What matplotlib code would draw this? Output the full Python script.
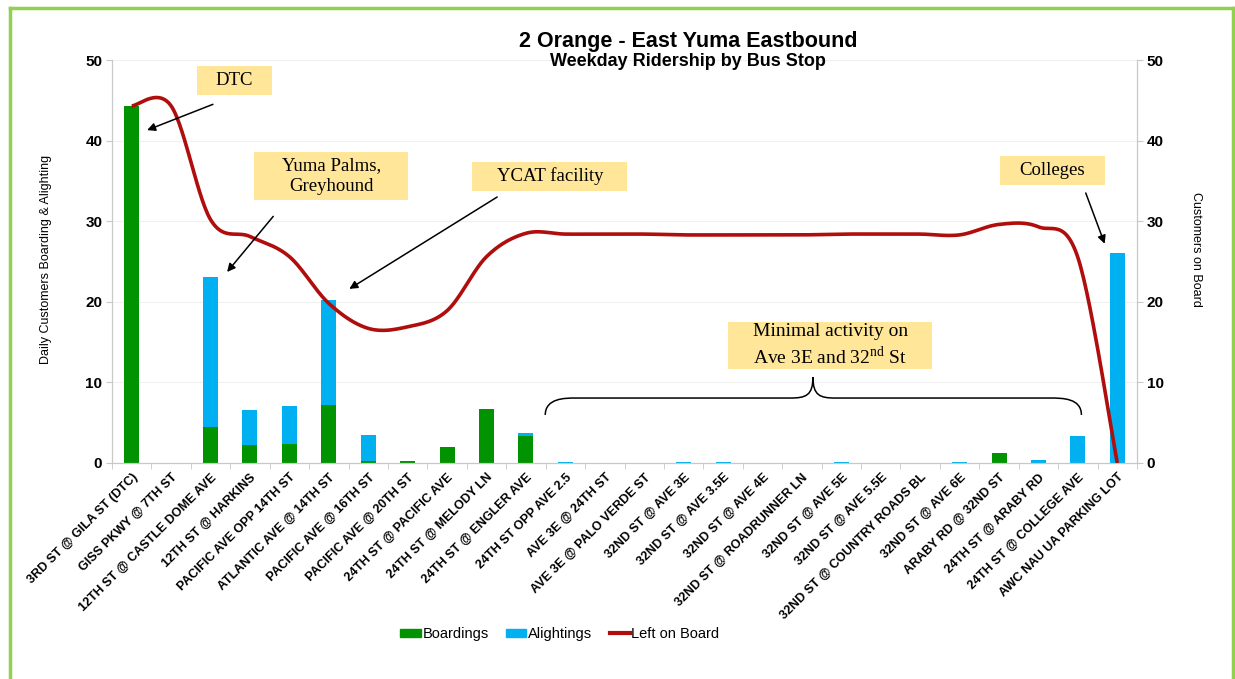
import numpy as np
import matplotlib
matplotlib.use("Agg")
import matplotlib.pyplot as plt
from matplotlib.patches import Rectangle
from matplotlib.path import Path
from matplotlib.patches import PathPatch
from matplotlib.lines import Line2D

stops = [
    "3RD ST @ GILA ST (DTC)", "GISS PKWY @ 7TH ST", "12TH ST @ CASTLE DOME AVE",
    "12TH ST @ HARKINS", "PACIFIC AVE OPP 14TH ST", "ATLANTIC AVE @ 14TH ST",
    "PACIFIC AVE @ 16TH ST", "PACIFIC AVE @ 20TH ST", "24TH ST @ PACIFIC AVE",
    "24TH ST @ MELODY LN", "24TH ST @ ENGLER AVE", "24TH ST OPP AVE 2.5",
    "AVE 3E @ 24TH ST", "AVE 3E @ PALO VERDE ST", "32ND ST @ AVE 3E",
    "32ND ST @ AVE 3.5E", "32ND ST @ AVE 4E", "32ND ST @ ROADRUNNER LN",
    "32ND ST @ AVE 5E", "32ND ST @ AVE 5.5E", "32ND ST @ COUNTRY ROADS BL",
    "32ND ST @ AVE 6E", "ARABY RD @ 32ND ST", "24TH ST @ ARABY RD",
    "24TH ST @ COLLEGE AVE", "AWC NAU UA PARKING LOT",
]
boardings = [44.3, 0, 4.5, 2.2, 2.3, 7.2, 0.2, 0.25, 2.0, 6.7, 3.3, 0,
             0, 0, 0, 0, 0, 0, 0, 0, 0, 0, 1.2, 0, 0, 0]
alightings = [0, 0, 18.6, 4.4, 4.8, 13.0, 3.3, 0, 0, 0, 0.4, 0.1,
              0, 0, 0.15, 0.1, 0, 0, 0.1, 0, 0, 0.1, 0, 0.35, 3.3, 26.0]
left_on_board = [44.3, 44.3, 30.2, 28.1, 25.6, 19.8, 16.7, 16.9, 18.9, 25.6,
                 28.5, 28.4, 28.4, 28.4, 28.3, 28.3, 28.3, 28.3, 28.4, 28.4,
                 28.4, 28.3, 29.6, 29.3, 25.5, 0]

GREEN = "#019301"
BLUE = "#00B0F0"
RED = "#B00D0D"
BOX = "#FFE699"

def smooth(xs, ys, n=30):
    xs = np.asarray(xs, float); ys = np.asarray(ys, float)
    P = np.column_stack([xs, ys])
    out = []
    for i in range(len(P) - 1):
        p0 = P[i - 1] if i > 0 else P[i]
        p1 = P[i]; p2 = P[i + 1]
        p3 = P[i + 2] if i + 2 < len(P) else P[i + 1]
        c1 = p1 + (p2 - p0) / 6.0
        c2 = p2 - (p3 - p1) / 6.0
        t = np.linspace(0, 1, n)[:, None]
        seg = ((1 - t) ** 3) * p1 + 3 * ((1 - t) ** 2) * t * c1 + 3 * (1 - t) * t ** 2 * c2 + t ** 3 * p2
        out.append(seg if i == 0 else seg[1:])
    o = np.vstack(out)
    return o[:, 0], o[:, 1]

plt.rcParams['font.family'] = ['Liberation Sans', 'DejaVu Sans']
fig = plt.figure(figsize=(12.35, 6.79), dpi=100)
ax = fig.add_axes([112 / 1235, 1 - 463 / 679, (1137 - 112) / 1235, (463 - 60) / 679])

x = np.arange(len(stops))
ax.bar(x, boardings, width=0.38, color=GREEN, zorder=2, label="Boardings")
ax.bar(x, alightings, width=0.38, bottom=boardings, color=BLUE, zorder=2, label="Alightings")

ax2 = ax.twinx()
sx, sy = smooth(x, left_on_board)
ax2.plot(sx, sy, color=RED, lw=2.6, zorder=3, solid_capstyle='butt')

for a in (ax, ax2):
    a.set_ylim(0, 50)
    a.set_yticks(range(0, 51, 10))
    a.set_xlim(-0.5, len(stops) - 0.5)
    for s in a.spines.values():
        s.set_color("#C8C8C8")
    a.spines['top'].set_visible(False)
    a.tick_params(axis='y', length=4, color="#C8C8C8", labelsize=11, pad=3)
    for lab in a.get_yticklabels():
        lab.set_fontweight('bold')

ax.yaxis.grid(True, color="#F0F0F0", lw=0.8, zorder=0)
ax.set_axisbelow(True)
ax.set_xticks(x)
ax.set_xticklabels(stops, rotation=45, ha='right', rotation_mode='anchor',
                   fontsize=9.0, fontweight='bold')
ax.tick_params(axis='x', which='major', length=0, pad=6)
ax.set_xticks(np.arange(-0.5, len(stops), 1), minor=True)
ax.tick_params(axis='x', which='minor', length=4, color="#C8C8C8")
ax.set_ylabel("Daily Customers Boarding & Alighting", fontsize=9)
ax.yaxis.set_label_coords(-0.0585, 0.506)
ax2.set_ylabel("Customers on Board", fontsize=9, rotation=270, va='center')
ax2.yaxis.set_label_coords(1.0576, 0.531)

fig.text(688 / 1235, 1 - 41 / 679, "2 Orange - East Yuma Eastbound", ha='center', va='center',
         fontsize=15.5, fontweight='bold')
fig.text(688 / 1235, 1 - 61.5 / 679, "Weekday Ridership by Bus Stop", ha='center', va='center',
         fontsize=13, fontweight='bold')

serif = ['Liberation Serif', 'DejaVu Serif']
def box(x0, x1, y0, y1, txt, fs=13.5):
    ax2.add_patch(Rectangle((x0, y0), x1 - x0, y1 - y0, fc=BOX, ec='none', zorder=5))
    ax2.text((x0 + x1) / 2, (y0 + y1) / 2, txt, ha='center', va='center', fontsize=fs,
             family=serif, zorder=6, linespacing=1.25)

def arrow(x0, y0, x1, y1):
    ax2.annotate("", xy=(x1, y1), xytext=(x0, y0),
                 arrowprops=dict(arrowstyle='-|>', color='black', lw=1.1,
                                 mutation_scale=12, shrinkA=0, shrinkB=0), zorder=6)

box(1.657, 3.56, 45.66, 49.26, "DTC")
arrow(2.06, 44.5, 0.39, 41.3)
box(3.10, 7.02, 32.63, 38.58, "Yuma Palms,\nGreyhound")
arrow(3.59, 30.6, 2.42, 23.7)
box(8.64, 12.57, 33.75, 37.34, "YCAT facility")
arrow(9.27, 33.0, 5.52, 21.6)
box(22.03, 24.68, 34.49, 38.09, "Colleges")
arrow(24.2, 33.5, 24.68, 27.2)
box(15.12, 20.31, 11.66, 17.49, "Minimal activity on\nAve 3E and 32$^{\\mathregular{nd}}$ St", fs=14)

# curly brace
yb, yl, yp = 5.96, 8.06, 10.67
verts = [(10.49, yb), (10.49, yl), (11.0, yl), (11.25, yl),
         (16.7, yl),
         (17.1, yl), (17.28, yl + 0.3), (17.28, yp),
         (17.28, yl + 0.3), (17.46, yl), (17.85, yl),
         (23.3, yl),
         (23.6, yl), (24.09, yl), (24.09, yb)]
codes = [Path.MOVETO, Path.CURVE4, Path.CURVE4, Path.CURVE4,
         Path.LINETO,
         Path.CURVE4, Path.CURVE4, Path.CURVE4,
         Path.CURVE4, Path.CURVE4, Path.CURVE4,
         Path.LINETO,
         Path.CURVE4, Path.CURVE4, Path.CURVE4]
ax2.add_patch(PathPatch(Path(verts, codes), fc='none', ec='black', lw=1.1, zorder=5))

handles = [Rectangle((0, 0), 1, 1, color=GREEN), Rectangle((0, 0), 1, 1, color=BLUE),
           Line2D([], [], color=RED, lw=3)]
fig.legend(handles, ["Boardings", "Alightings", "Left on Board"], loc='center',
           bbox_to_anchor=(560 / 1235, 1 - 634 / 679), ncol=3, frameon=False, fontsize=10.5,
           handlelength=1.4, handleheight=0.5, handletextpad=0.1, columnspacing=1.2)

# green frame
fc = "#92D050"
fig.add_artist(Line2D([10 / 1235, 10 / 1235], [0, 1 - 8 / 679], color=fc, lw=2.5, transform=fig.transFigure))
fig.add_artist(Line2D([10 / 1235, 1233 / 1235], [1 - 8 / 679, 1 - 8 / 679], color=fc, lw=2.5, transform=fig.transFigure))
fig.add_artist(Line2D([1233 / 1235, 1233 / 1235], [0, 1 - 8 / 679], color=fc, lw=2.5, transform=fig.transFigure))

fig.savefig("out.png", dpi=100)
